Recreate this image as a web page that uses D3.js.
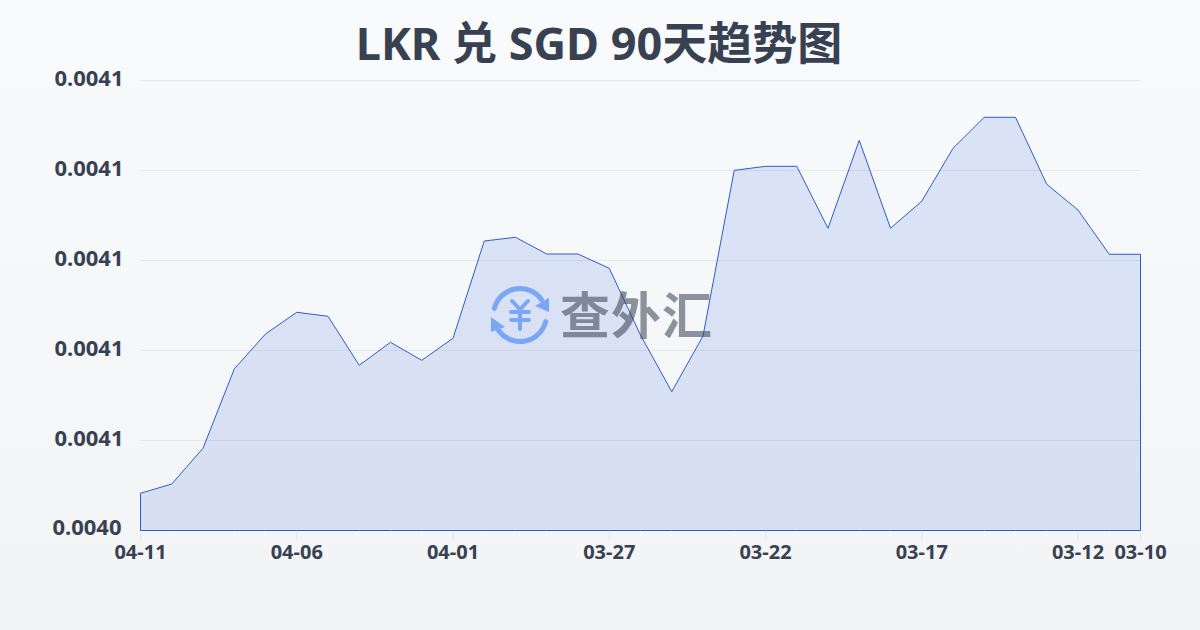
<!DOCTYPE html>
<html>
<head>
<meta charset="utf-8">
<script src="https://cdn.jsdelivr.net/npm/d3@7"></script>
<style>
  html, body { margin: 0; padding: 0; }
  body { width: 1200px; height: 630px; overflow: hidden; }
  text { font-family: "Noto Sans", "Noto Sans CJK SC", sans-serif; }
</style>
</head>
<body>
<div id="container"></div>
<script>
// newest date first
let dates = ["04-11","04-10","04-09","04-08","04-07","04-06","04-05","04-04","04-03","04-02","04-01",
  "03-31","03-30","03-29","03-28","03-27","03-26","03-25","03-24","03-23","03-22",
  "03-21","03-20","03-19","03-18","03-17","03-16","03-15","03-14","03-13","03-12","03-11","03-10"];
let rates = [0.00404827,0.00405033,0.00405827,0.00407589,0.00408367,0.00408849,0.00408760,0.00407671,
  0.00408182,0.00407782,0.00408271,0.00410433,0.00410516,0.00410144,0.00410144,0.00409827,0.00408344,
  0.00407084,0.00408322,0.00412004,0.00412093,0.00412093,0.00410716,0.00412671,0.00410716,0.00411316,
  0.00412493,0.00413182,0.00413182,0.00411693,0.00411122,0.00410138,0.00410138];
let xTickDates = ["04-11","04-06","04-01","03-27","03-22","03-17","03-12","03-10"];
let yTickValues = [0.00404,0.00406,0.00408,0.00410,0.00412,0.00414];

let w = 1200;
let h = 630;
let left = 140.5;
let right = 1140.5;
let top_ = 80.5;
let bottom = 530.5;
let textColor = "#374151";

let viz = d3.select("#container")
  .append("svg")
    .attr("width", w)
    .attr("height", h)
    .style("display", "block")
;

let bg = viz.append("defs").append("linearGradient")
    .attr("id", "bg")
    .attr("x1", 0).attr("y1", 0).attr("x2", 0).attr("y2", 1)
;
bg.append("stop").attr("offset", "0%").attr("stop-color", "#f8fafc");
bg.append("stop").attr("offset", "100%").attr("stop-color", "#f3f4f6");

viz.append("rect")
    .attr("width", w)
    .attr("height", h)
    .attr("fill", "url(#bg)")
;

viz.append("text")
    .text("LKR 兑 SGD 90天趋势图")
    .attr("x", 599)
    .attr("y", 60)
    .attr("text-anchor", "middle")
    .attr("font-size", 45)
    .attr("font-weight", 700)
    .attr("fill", textColor)
;

let xScale = d3.scalePoint().domain(dates).range([left, right]);
let yScale = d3.scaleLinear().domain([0.00404, 0.00414]).range([bottom, top_]);

// grid lines + y labels
let yAxis = d3.axisLeft(yScale)
    .tickValues(yTickValues)
    .tickSize(-(right - left))
    .tickPadding(17)
    .offset(0)
    .tickFormat(function(d){ return d.toFixed(4); })
;
let yGroup = viz.append("g")
    .attr("transform", "translate(" + left + ",0)")
    .call(yAxis)
;
yGroup.select(".domain").remove();
yGroup.selectAll("line").attr("stroke", "#e5e7eb");
yGroup.selectAll("text")
    .attr("font-size", 22)
    .attr("font-weight", 700)
    .attr("fill", textColor)
    .attr("dy", function(d){ return d === yTickValues[0] ? "0.2em" : "0.25em"; })
    .attr("dx", function(d){ return d === yTickValues[0] ? -2 : 0; })
;

// x ticks + labels
let xAxis = d3.axisBottom(xScale)
    .tickValues(xTickDates)
    .tickSize(10)
    .tickPadding(4)
    .offset(0)
;
let xGroup = viz.append("g")
    .attr("transform", "translate(0," + bottom + ")")
    .call(xAxis)
;
xGroup.select(".domain").remove();
xGroup.selectAll("line").attr("stroke", "#e5e7eb");
xGroup.selectAll("text")
    .attr("font-size", 20)
    .attr("font-weight", 700)
    .attr("fill", textColor)
;

let area = d3.area()
    .x(function(d, i){ return xScale(dates[i]); })
    .y0(bottom)
    .y1(function(d){ return yScale(d); })
;
viz.append("path")
    .datum(rates)
    .attr("d", area)
    .attr("fill", "#1d4ed8")
    .attr("fill-opacity", 0.13)
    .attr("stroke", "#2a5fc4")
    .attr("stroke-width", 1)
;

// watermark
let mark = viz.append("g").attr("opacity", 0.6);
let logo = mark.append("g")
    .attr("transform", "translate(520,315)")
    .attr("fill", "none")
    .attr("stroke", "#3b82f6")
    .attr("stroke-linecap", "round")
;
function ring(a0, a1){
  let p = d3.path();
  p.arc(0, 0, 26.5, a0, a1);
  return p.toString();
}
logo.append("path").attr("d", ring(Math.PI * 1.08, Math.PI * 1.8)).attr("stroke-width", 5);
logo.append("path").attr("d", ring(Math.PI * 0.08, Math.PI * 0.8)).attr("stroke-width", 5);
logo.append("path").attr("d", "M29,-17.5L29,-3L15,-9Z").attr("fill", "#3b82f6").attr("stroke", "none");
logo.append("path").attr("d", "M-29,2L-29,17L-15,12Z").attr("fill", "#3b82f6").attr("stroke", "none");
logo.append("path").attr("d", "M-8,-14L0,-5.5L8,-14M-9,-3H9M-9,5H9M0,-5.5V14").attr("stroke-width", 4);

mark.append("text")
    .text("查外汇")
    .attr("x", 560)
    .attr("y", 334)
    .attr("font-size", 50)
    .attr("font-weight", 700)
    .attr("letter-spacing", 1)
    .attr("fill", "#374151")
    .attr("fill-opacity", 0.92)
    .style("font-family", '"Noto Sans CJK SC", sans-serif')
;
</script>
</body>
</html>
